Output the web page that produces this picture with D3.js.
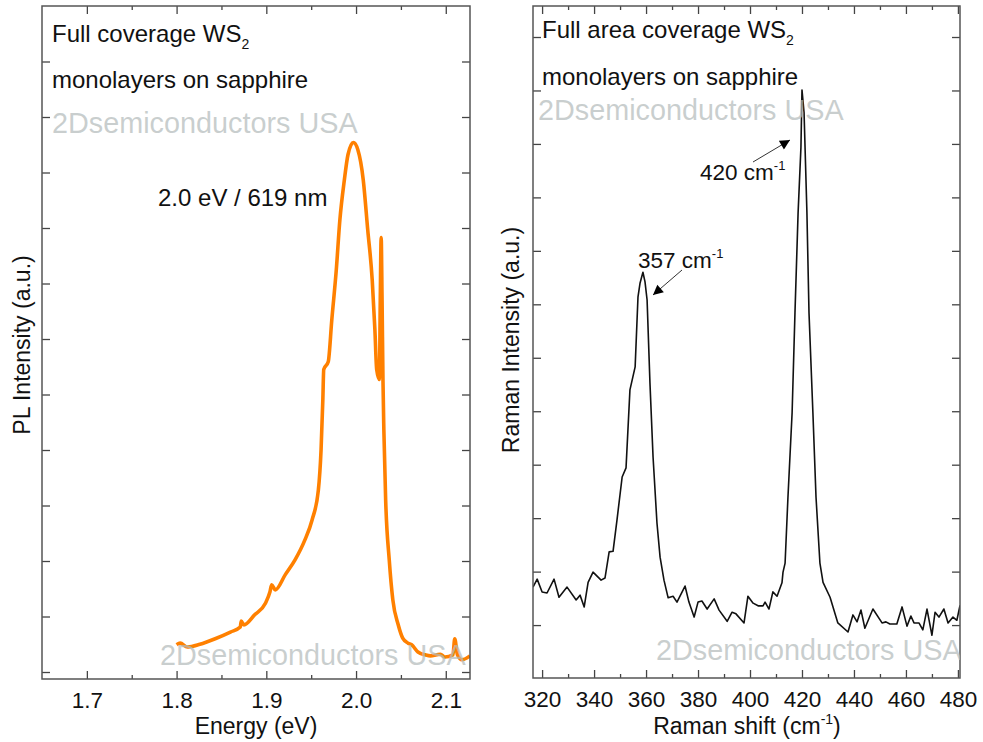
<html>
<head>
<script src="https://cdn.jsdelivr.net/npm/d3@7"></script>
<style>
  body { margin: 0; background: #fff; }
  svg text { font-family: "Liberation Sans", Arial, sans-serif; fill: #111; }
</style>
</head>
<body>
<div id="chart"></div>
<script>
// PL spectrum (left panel)
var plEnergy = [1.800, 1.804, 1.812, 1.826, 1.843, 1.860, 1.871, 1.872, 1.875, 1.887, 1.899, 1.904, 1.906, 1.910,
  1.921, 1.932, 1.943, 1.951, 1.958, 1.961, 1.963, 1.964, 1.969, 1.973, 1.978, 1.982, 1.987, 1.991, 1.997,
  2.002, 2.008, 2.013, 2.018, 2.021, 2.023, 2.026, 2.027, 2.028, 2.029, 2.030, 2.031, 2.033, 2.037, 2.041,
  2.047, 2.052, 2.058, 2.062, 2.069, 2.077, 2.083, 2.090, 2.094, 2.099, 2.108, 2.110, 2.113, 2.118, 2.127];
var plIntensity = [0.49, 0.52, 0.45, 0.50, 0.60, 0.72, 0.81, 0.92, 0.85, 1.03, 1.24, 1.44, 1.57, 1.48,
  1.75, 2.02, 2.38, 2.74, 3.28, 4.00, 4.91, 5.45, 5.59, 6.35, 7.25, 8.15, 8.87, 9.32, 9.54,
  9.41, 8.87, 7.97, 7.07, 6.17, 5.45, 5.27, 6.71, 7.83, 6.71, 5.27, 4.36, 3.10, 2.02, 1.30,
  0.85, 0.61, 0.52, 0.49, 0.36, 0.31, 0.29, 0.31, 0.32, 0.27, 0.31, 0.60, 0.31, 0.22, 0.29];

// Raman spectrum (right panel)
var ramanShift = [316.5, 318.1, 320.0, 321.9, 324.6, 326.5, 329.6, 333.1, 334.6, 336.2, 337.7, 339.6, 342.7, 344.2,
  345.8, 347.3, 348.8, 350.8, 352.3, 353.8, 355.8, 356.9, 357.7, 358.8, 359.6, 360.4, 361.5, 362.7, 364.2,
  365.4, 366.9, 368.5, 370.4, 371.9, 375.0, 376.5, 378.5, 380.0, 381.5, 383.5, 386.2, 388.1, 391.2, 393.1,
  394.6, 397.7, 399.2, 401.2, 403.1, 405.0, 405.8, 407.3, 408.8, 410.4, 412.3, 412.7, 413.5, 414.6, 416.2,
  417.3, 418.5, 419.6, 420.0, 420.8, 421.9, 422.7, 424.2, 425.4, 426.9, 428.1, 430.8, 433.8, 437.7, 439.6,
  441.2, 442.7, 444.2, 447.3, 450.8, 452.3, 453.8, 456.5, 458.5, 460.4, 461.9, 463.1, 465.0, 466.5, 468.1,
  470.0, 471.2, 472.7, 474.6, 476.2, 478.1, 479.6, 480.8];
var ramanIntensity = [0.71, 0.86, 0.62, 0.60, 0.86, 0.52, 0.71, 0.47, 0.56, 0.34, 0.80, 0.99, 0.84, 0.88,
  1.37, 1.38, 1.96, 2.77, 2.94, 4.40, 4.83, 6.14, 6.40, 6.60, 6.42, 6.08, 4.53, 3.14, 1.91,
  1.27, 0.84, 0.51, 0.54, 0.43, 0.73, 0.43, 0.15, 0.43, 0.45, 0.30, 0.49, 0.28, 0.07, 0.24,
  0.21, 0.04, 0.54, 0.41, 0.36, 0.36, 0.43, 0.30, 0.62, 0.54, 0.79, 0.99, 1.16, 2.39, 3.97,
  5.84, 7.71, 8.94, 10.01, 9.58, 7.71, 5.84, 3.97, 2.39, 1.16, 0.80, 0.52, 0.04, -0.13, 0.19,
  0.06, 0.28, -0.06, 0.30, 0.04, 0.06, 0.02, 0.02, 0.34, -0.02, 0.17, 0.04, 0.04, -0.09, 0.30,
  -0.19, 0.24, 0.15, 0.30, 0.04, 0.15, 0.09, 0.37];

var plTicks = [1.7, 1.8, 1.9, 2.0, 2.1];
var plMinor = [1.75, 1.85, 1.95, 2.05];
var ramanTicks = [320, 340, 360, 380, 400, 420, 440, 460, 480];
var ramanMinor = [330, 350, 370, 390, 410, 430, 450, 470];
var yTicks = [0, 1, 2, 3, 4, 5, 6, 7, 8, 9, 10, 11];

var W = 983, H = 742;
var svg = d3.select('#chart').append('svg').attr('width', W).attr('height', H);

function panel(opt) {
  var g = svg.append('g');
  var x = d3.scaleLinear().domain(opt.xDomain).range([opt.left, opt.right]);
  var y = d3.scaleLinear().domain(opt.yDomain).range([opt.bottom, opt.top]);

  g.append('clipPath').attr('id', opt.id).append('rect')
    .attr('x', opt.left).attr('y', opt.top)
    .attr('width', opt.right - opt.left).attr('height', opt.bottom - opt.top);

  // ticks (inward, mirrored)
  var axes = [
    [d3.axisBottom(x).tickValues(opt.xTicks), 'translate(0,' + opt.bottom + ')', -8, true],
    [d3.axisBottom(x).tickValues(opt.xMinor), 'translate(0,' + opt.bottom + ')', -4, false],
    [d3.axisTop(x).tickValues(opt.xTicks), 'translate(0,' + opt.top + ')', -8, false],
    [d3.axisTop(x).tickValues(opt.xMinor), 'translate(0,' + opt.top + ')', -4, false],
    [d3.axisLeft(y).tickValues(yTicks), 'translate(' + opt.left + ',0)', -8, false],
    [d3.axisRight(y).tickValues(yTicks), 'translate(' + opt.right + ',0)', -8, false]
  ];
  axes.forEach(function(a) {
    var ax = g.append('g').attr('transform', a[1])
      .call(a[0].tickSizeInner(a[2]).tickSizeOuter(0).tickFormat(a[3] ? opt.fmt : ''));
    ax.select('.domain').remove();
    ax.selectAll('line').attr('stroke', '#444').attr('stroke-width', 1.3);
    ax.selectAll('text').attr('font-size', 22.5).attr('fill', '#111')
      .attr('y', 13).attr('dy', '0.71em');
  });

  g.append('path')
    .datum(d3.range(opt.xs.length))
    .attr('clip-path', 'url(#' + opt.id + ')')
    .attr('fill', 'none')
    .attr('stroke', opt.color)
    .attr('stroke-width', opt.width)
    .attr('stroke-linejoin', 'round')
    .attr('d', d3.line().curve(opt.curve)
      .x(function(i) { return x(opt.xs[i]); }).y(function(i) { return y(opt.ys[i]); }));

  g.append('rect')
    .attr('x', opt.left).attr('y', opt.top)
    .attr('width', opt.right - opt.left).attr('height', opt.bottom - opt.top)
    .attr('fill', 'none').attr('stroke', '#555').attr('stroke-width', 1.5);

  return { g: g, x: x, y: y };
}

var left = panel({
  id: 'clipL', left: 42, right: 470, top: 6, bottom: 679,
  xDomain: [1.65, 2.127], yDomain: [-0.126, 12.0],
  xTicks: plTicks, xMinor: plMinor, fmt: d3.format('.1f'),
  xs: plEnergy, ys: plIntensity, color: '#ff8000', width: 3.6, curve: d3.curveMonotoneX
});

var right = panel({
  id: 'clipR', left: 533, right: 960, top: 6, bottom: 678,
  xDomain: [316.5, 480.8], yDomain: [-0.99, 11.58],
  xTicks: ramanTicks, xMinor: ramanMinor, fmt: d3.format('d'),
  xs: ramanShift, ys: ramanIntensity, color: '#111', width: 1.6, curve: d3.curveLinear
});

// axis titles
svg.append('text').attr('x', 256).attr('y', 734).attr('text-anchor', 'middle')
  .attr('font-size', 23).text('Energy (eV)');
var rt = svg.append('text').attr('x', 747).attr('y', 734).attr('text-anchor', 'middle')
  .attr('font-size', 23).text('Raman shift (cm');
rt.append('tspan').attr('font-size', 14).attr('dy', -10).text('-1');
rt.append('tspan').attr('dy', 10).text(')');

svg.append('text').attr('transform', 'translate(30,345) rotate(-90)').attr('text-anchor', 'middle')
  .attr('font-size', 23).text('PL Intensity (a.u.)');
svg.append('text').attr('transform', 'translate(519,340) rotate(-90)').attr('text-anchor', 'middle')
  .attr('font-size', 23).text('Raman Intensity (a.u.)');

// panel notes
function note(x, y, main, sub) {
  var t = svg.append('text').attr('x', x).attr('y', y).attr('font-size', 24).text(main);
  if (sub) t.append('tspan').attr('font-size', 14).attr('dy', 7).text(sub);
  return t;
}
note(52, 42, 'Full coverage WS', '2');
note(52, 88, 'monolayers on sapphire');
note(542, 38, 'Full area coverage WS', '2');
note(542, 85, 'monolayers on sapphire');
note(158, 206, '2.0 eV / 619 nm');

function cm(x, y, num) {
  var t = svg.append('text').attr('x', x).attr('y', y).attr('font-size', 22.5).text(num + ' cm');
  t.append('tspan').attr('font-size', 13).attr('dy', -10).text('-1');
}
cm(700, 180, '420');
cm(638, 268, '357');

svg.append('defs').append('marker').attr('id', 'head')
  .attr('viewBox', '0 0 10 10').attr('refX', 10).attr('refY', 5)
  .attr('markerWidth', 18).attr('markerHeight', 10).attr('markerUnits', 'userSpaceOnUse')
  .attr('orient', 'auto')
  .append('path').attr('d', 'M0,0 L10,5 L0,10 Z').attr('fill', '#000');

[[753, 162, 790, 140], [682, 270, 653, 295]].forEach(function(a) {
  svg.append('line').attr('x1', a[0]).attr('y1', a[1]).attr('x2', a[2]).attr('y2', a[3])
    .attr('stroke', '#333').attr('stroke-width', 1).attr('marker-end', 'url(#head)');
});

// watermarks
var marks = [[52, 133, null], [160, 665, null], [538, 120, null], [656, 660, 'clipR']];
marks.forEach(function(m) {
  svg.append('text').attr('x', m[0]).attr('y', m[1]).attr('font-size', 28.8)
    .attr('clip-path', m[2] ? 'url(#' + m[2] + ')' : null)
    .style('fill', '#b4bcbc').attr('fill-opacity', 0.72)
    .text('2Dsemiconductors USA');
});
</script>
</body>
</html>
